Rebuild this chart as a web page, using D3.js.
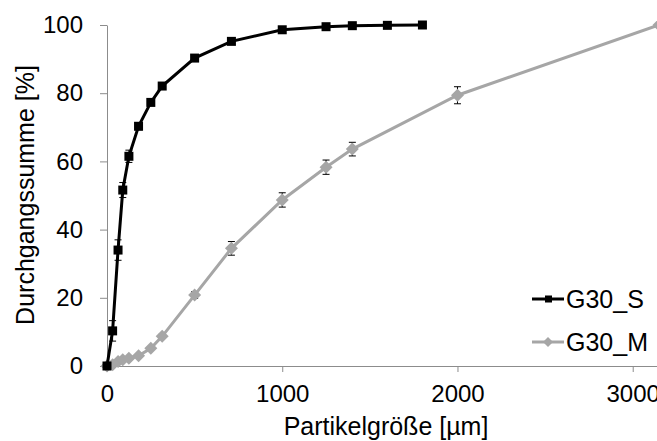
<!DOCTYPE html>
<html>
<head>
<meta charset="utf-8">
<script src="https://cdn.jsdelivr.net/npm/d3@7/dist/d3.min.js"></script>
<style>
  body { margin: 0; background: #fff; }
  svg { display: block; font-family: "Liberation Sans", Arial, sans-serif; }
  .axis path, .axis line { stroke: #8c8c8c; }
  .axis text { font-size: 24px; fill: #000; font-family: "Liberation Sans", Arial, sans-serif; }
</style>
</head>
<body>
<div id="vis-div"></div>
<script>
'use strict'

// particle sizes in µm
let sizesS = [0, 32, 63, 90, 125, 180, 250, 315, 500, 710, 1000, 1250, 1400, 1600, 1800]
let valuesS = [0, 10.3, 34, 51.6, 61.5, 70.3, 77.3, 82.1, 90.3, 95.2, 98.6, 99.5, 99.8, 99.9, 100]
let errS = [0, 3, 3, 2.2, 1.8, 1, 0.6, 0.4, 0.3, 0.2, 0.1, 0, 0, 0, 0]

let sizesM = [0, 32, 63, 90, 125, 180, 250, 315, 500, 710, 1000, 1250, 1400, 2000, 3150]
let valuesM = [0, 0.4, 1.3, 1.8, 2.3, 3, 5.2, 8.7, 20.8, 34.5, 48.7, 58.3, 63.6, 79.4, 100]
let errM = [0, 0, 0, 0, 0, 0, 0, 0.6, 1, 2, 2.1, 2.1, 2, 2.5, 0]

let xTicks = [0, 1000, 2000, 3000]
let yTicks = [0, 20, 40, 60, 80, 100]
let seriesNames = ["G30_S", "G30_M"]

function wrapper(){
	let width = 657
	let height = 441

	let svg = d3.select("#vis-div").append("svg")
		.attr("width", width)
		.attr("height", height)

	let x = d3.scaleLinear().domain([0, 3150]).range([107, 659])
	let y = d3.scaleLinear().domain([0, 100]).range([366, 25])

	// axes
	svg.append("g")
		.attr("class", "axis")
		.attr("transform", "translate(0," + y(0) + ")")
		.call(d3.axisBottom(x).tickValues(xTicks).tickFormat(d3.format("d")).tickSize(6).tickSizeOuter(0).tickPadding(13))
	svg.append("g")
		.attr("class", "axis")
		.attr("transform", "translate(" + x(0) + ",0)")
		.call(d3.axisLeft(y).tickValues(yTicks).tickSize(7).tickSizeOuter(0).tickPadding(17))

	svg.append("text")
		.attr("x", 386).attr("y", 435)
		.attr("text-anchor", "middle")
		.style("font-size", "25px")
		.text("Partikelgröße [µm]")
	svg.append("text")
		.attr("transform", "translate(34," + 195 + ") rotate(-90)")
		.attr("text-anchor", "middle")
		.style("font-size", "25px")
		.text("Durchgangssumme [%]")

	let line = d3.line()
		.x(function(d){ return x(d[0]) })
		.y(function(d){ return y(d[1]) })

	let dataS = sizesS.map(function(s, i){ return [s, valuesS[i], errS[i]] })
	let dataM = sizesM.map(function(s, i){ return [s, valuesM[i], errM[i]] })

	function drawSeries(data, color, marker){
		let g = svg.append("g")

		// error bars (behind markers)
		let eb = g.selectAll(".eb").data(data.filter(function(d){ return d[2] > 0.3 })).enter().append("g")
			.attr("stroke", "#000").attr("stroke-width", 1)
		eb.append("line")
			.attr("x1", function(d){ return x(d[0]) }).attr("x2", function(d){ return x(d[0]) })
			.attr("y1", function(d){ return y(d[1] + d[2]) }).attr("y2", function(d){ return y(d[1] - d[2]) })
		eb.append("line")
			.attr("x1", function(d){ return x(d[0]) - 3.5 }).attr("x2", function(d){ return x(d[0]) + 3.5 })
			.attr("y1", function(d){ return y(d[1] + d[2]) }).attr("y2", function(d){ return y(d[1] + d[2]) })
		eb.append("line")
			.attr("x1", function(d){ return x(d[0]) - 3.5 }).attr("x2", function(d){ return x(d[0]) + 3.5 })
			.attr("y1", function(d){ return y(d[1] - d[2]) }).attr("y2", function(d){ return y(d[1] - d[2]) })

		g.append("path").datum(data)
			.attr("d", line)
			.attr("fill", "none")
			.attr("stroke", color)
			.attr("stroke-width", 3)

		let pts = g.selectAll(".pt").data(data).enter().append("g")
			.attr("transform", function(d){ return "translate(" + x(d[0]) + "," + y(d[1]) + ")" })
		if (marker == "square"){
			pts.append("rect").attr("x", -4.5).attr("y", -4.5).attr("width", 9).attr("height", 9).attr("fill", color)
		}
		else{
			pts.append("path").attr("d", "M0,-6.5L6.5,0L0,6.5L-6.5,0Z").attr("fill", color)
		}
	}

	drawSeries(dataM, "#a6a6a6", "diamond")
	drawSeries(dataS, "#000000", "square")

	// legend
	let legColors = ["#000000", "#a6a6a6"]
	let leg = svg.append("g")
	seriesNames.forEach(function(name, i){
		let ly = 299 + i * 43
		leg.append("line").attr("x1", 532).attr("x2", 564).attr("y1", ly).attr("y2", ly)
			.attr("stroke", legColors[i]).attr("stroke-width", 3)
		if (i == 0){
			leg.append("rect").attr("x", 545).attr("y", ly - 3.5).attr("width", 7).attr("height", 7).attr("fill", legColors[i])
		}
		else{
			leg.append("path").attr("d", "M548," + (ly - 5) + "l5,5l-5,5l-5,-5Z").attr("fill", legColors[i])
		}
		leg.append("text").attr("x", 566).attr("y", ly + 9).style("font-size", "25px").text(name)
	})
}

wrapper();
</script>
</body>
</html>
